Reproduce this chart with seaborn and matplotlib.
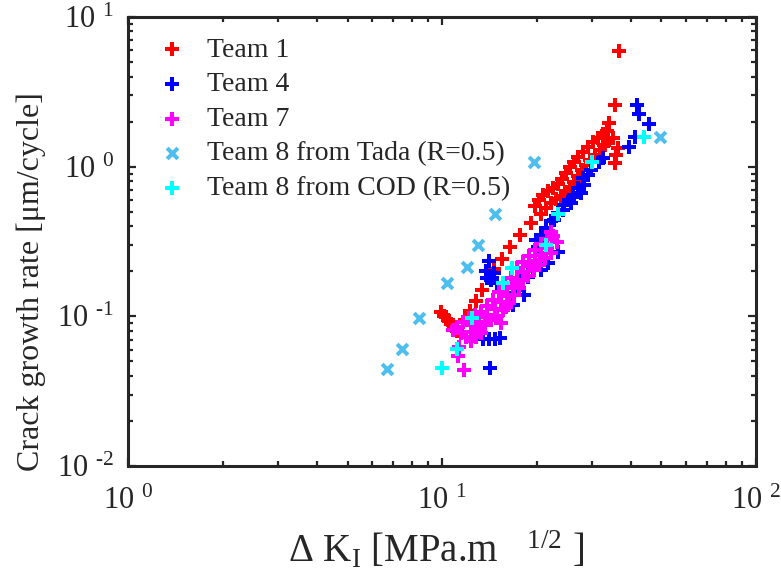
import matplotlib
matplotlib.use("Agg")
import matplotlib.pyplot as plt
import seaborn as sns
from matplotlib.ticker import LogLocator, NullFormatter

# Delta K [MPa.m^1/2] and crack growth rate [um/cycle]
team1_dk = [9.89, 10.18, 10.41, 10.65, 10.88, 11.12,
            11.80, 12.24, 12.79, 13.36, 14.60, 15.48, 16.42, 17.74, 19.23,
            19.73, 20.32, 20.92, 21.70, 22.52, 23.36, 24.05, 24.77, 25.51, 26.27,
            27.05, 28.07, 29.12, 30.21, 31.33, 32.51, 33.47,
            20.62, 21.38, 22.19, 23.01, 23.88, 24.77, 25.51, 26.27, 27.05, 27.86,
            28.70, 29.54, 30.65, 31.79, 32.74, 33.72,
            33.97, 35.50, 36.56, 34.99, 36.30, 35.76, 35.50]
team1_da = [0.107, 0.101, 0.0946, 0.0889, 0.0837, 0.0799,
            0.0946, 0.109, 0.127, 0.150, 0.207, 0.242, 0.289, 0.350, 0.423,
            0.546, 0.599, 0.647, 0.688, 0.721, 0.766, 0.828, 0.908, 0.995, 1.075,
            1.161, 1.254, 1.354, 1.462, 1.555, 1.653, 1.732,
            0.483, 0.530, 0.572, 0.609, 0.637, 0.678, 0.721, 0.790, 0.867, 0.951,
            1.027, 1.108, 1.197, 1.293, 1.396, 1.485,
            1.958, 2.584, 5.93, 1.555, 1.333, 1.197, 1.059]

team4_dk = [14.18, 13.47, 14.07, 14.71, 15.26,
            14.07, 13.76, 13.87, 14.28, 14.92, 14.60,
            16.30, 16.79, 16.91, 17.41, 17.80, 18.20, 18.74, 19.44, 20.60, 21.70, 23.36,
            20.17, 21.08, 19.88, 20.60, 21.40, 22.20, 22.68, 23.36, 24.23, 24.41,
            25.32, 25.70, 26.08, 27.05, 27.70, 28.28, 28.07, 29.12, 29.80, 31.56, 32.51,
            39.35, 41.12, 45.58, 42.36, 41.73]
team4_da = [0.0452, 0.0706, 0.0706, 0.0706, 0.0717,
            0.234, 0.201, 0.181, 0.175, 0.167, 0.195,
            0.125, 0.119, 0.143, 0.150, 0.175, 0.139, 0.183, 0.204, 0.204, 0.227, 0.269,
            0.291, 0.339, 0.324, 0.350, 0.390, 0.434, 0.441, 0.491, 0.514, 0.555,
            0.600, 0.572, 0.628, 0.721, 0.667, 0.755, 0.841, 0.880, 0.950, 1.075, 1.143,
            1.354, 1.579, 1.929, 2.249, 2.584]

team7_dk = [11.71, 11.21, 11.29, 15.37, 15.94, 22.20,
            10.80, 11.12, 11.46, 11.88, 12.33, 12.79, 13.27,
            11.63, 12.15, 12.70, 13.27, 13.87, 14.49, 15.15, 15.82, 16.54, 17.29,
            18.06, 18.87, 19.73, 20.60, 21.54, 22.52,
            12.51, 13.08, 13.66, 14.28, 14.92, 15.60, 16.30, 16.91, 17.54, 18.06,
            18.74, 19.58, 20.32, 21.23, 22.20, 23.19,
            12.33, 13.08, 13.87, 14.71, 15.37, 16.06, 16.79, 17.29, 18.06, 18.87,
            19.73, 20.60, 21.54]
team7_da = [0.0438, 0.0544, 0.0625, 0.0903, 0.116, 0.366,
            0.0811, 0.0849, 0.0774, 0.0729, 0.0685, 0.0729, 0.0774,
            0.0918, 0.0976, 0.102, 0.107, 0.117, 0.129, 0.146, 0.162, 0.181, 0.211,
            0.231, 0.253, 0.278, 0.305, 0.329, 0.345,
            0.0787, 0.0837, 0.0876, 0.0946, 0.101, 0.110, 0.123, 0.139, 0.155, 0.175,
            0.186, 0.204, 0.221, 0.246, 0.265, 0.314,
            0.0876, 0.0918, 0.101, 0.112, 0.125, 0.137, 0.155, 0.175, 0.198, 0.217,
            0.234, 0.257, 0.286]

tada_dk = [6.70, 7.43, 8.45, 10.34, 11.97, 12.98, 14.76, 19.65, 49.4]
tada_da = [0.0445, 0.0606, 0.0976, 0.168, 0.214, 0.300, 0.483, 1.07, 1.58]

cod_dk = [10.0, 11.2, 12.42, 15.65, 16.67, 21.5, 23.4, 30.0, 43.9]
cod_da = [0.0449, 0.0606, 0.0976, 0.168, 0.209, 0.300, 0.483, 1.07, 1.58]

series = [
    (team1_dk, team1_da, "Team 1", "+", "#ff0000"),
    (team4_dk, team4_da, "Team 4", "+", "#0000ff"),
    (team7_dk, team7_da, "Team 7", "+", "#ff00ff"),
    (tada_dk, tada_da, "Team 8 from Tada (R=0.5)", "x", "#4dbeee"),
    (cod_dk, cod_da, "Team 8 from COD (R=0.5)", "+", "#00ffff"),
]

sns.set_style("ticks")
plt.rcParams["font.family"] = ["Liberation Serif", "DejaVu Serif"]
plt.rcParams["mathtext.fontset"] = "custom"
plt.rcParams["mathtext.rm"] = "Liberation Serif"
plt.rcParams["mathtext.it"] = "Liberation Serif:italic"

axis_col = "#262626"
fig = plt.figure(figsize=(7.81, 5.88), dpi=100)
ax = fig.add_axes([0.164, 0.2075, 0.804, 0.7636])

for dk, da, name, mk, col in series:
    size = 60 if mk == "x" else 92
    sns.scatterplot(x=dk, y=da, marker=mk, color=col, s=size, linewidth=2.9,
                    label=name, ax=ax)

ax.set_xscale("log")
ax.set_yscale("log")
ax.set_xlim(1, 100)
ax.set_ylim(0.01, 10)

sup = "10$^{\\ \\,\\text{%s}}$"
ax.set_xticks([1, 10, 100])
ax.set_xticklabels([sup % "0", sup % "1", sup % "2"])
ax.set_yticks([0.01, 0.1, 1, 10])
ax.set_yticklabels([sup % "-2", sup % "-1", sup % "0", sup % "1"])
ax.xaxis.set_minor_locator(LogLocator(base=10, subs=range(2, 10)))
ax.yaxis.set_minor_locator(LogLocator(base=10, subs=range(2, 10)))
ax.xaxis.set_minor_formatter(NullFormatter())
ax.yaxis.set_minor_formatter(NullFormatter())

ax.tick_params(which="both", direction="in", top=True, right=True,
               color=axis_col, labelcolor="#262626", labelsize=22)
ax.tick_params(which="major", length=6, width=1.6)
ax.tick_params(axis="x", which="major", pad=15)
ax.tick_params(axis="y", which="major", pad=10)
ax.tick_params(which="minor", length=3.5, width=1.6)
for sp in ax.spines.values():
    sp.set_linewidth(2.2)
    sp.set_color(axis_col)

ax.set_ylabel("Crack growth rate [\u03bcm/cycle]", fontsize=23)
ax.yaxis.set_label_coords(-0.13, 0.41)
ax.set_xlabel("$\\Delta$ K$_{\\text{I}}$ [MPa.m   $^{1/2}$ ]", fontsize=28)
ax.xaxis.set_label_coords(0.49, -0.143)

ax.legend(loc="upper left", bbox_to_anchor=(0.048, 0.955), frameon=False,
          fontsize=20, handlelength=1.0, handletextpad=0.76, borderpad=0,
          borderaxespad=0, labelspacing=0.33, scatterpoints=1)

fig.savefig("out.png", dpi=100)
